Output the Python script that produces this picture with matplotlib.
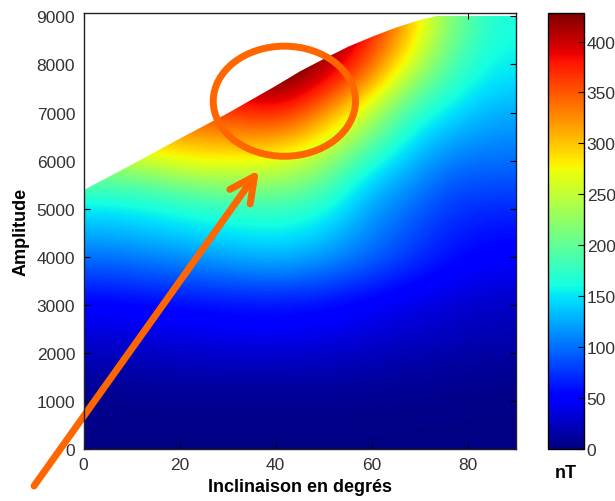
import numpy as np
import matplotlib
matplotlib.use("Agg")
import matplotlib.pyplot as plt
from matplotlib.patches import Ellipse

plt.rcParams['font.family'] = ['Liberation Sans', 'DejaVu Sans']

# inclination (deg) columns and amplitude rows of the field (nT)
inclinations = [0, 10, 20, 30, 40, 50, 60, 70, 80, 90]
amplitudes = [0, 500, 1000, 1500, 2000, 2500, 3000, 3500, 4000, 4500,
              5000, 5500, 6000, 6500, 7000, 7500, 8000, 8500, 9000]
field_nT = [
    [3, 3, 3, 3, 3, 3, 3, 3, 2, 2],
    [5, 5, 5, 5, 5, 5, 5, 4, 4, 3],
    [8, 9, 10, 10, 10, 10, 9, 8, 6, 5],
    [16, 18, 20, 21, 21, 20, 17, 14, 11, 9],
    [28, 30, 33, 35, 35, 33, 28, 23, 19, 16],
    [40, 43, 46, 49, 50, 47, 40, 33, 27, 22],
    [55, 58, 62, 65, 66, 62, 53, 43, 34, 28],
    [78, 84, 90, 96, 100, 92, 77, 60, 47, 40],
    [103, 110, 118, 126, 133, 120, 100, 78, 58, 50],
    [128, 135, 145, 152, 155, 145, 112, 88, 66, 58],
    [150, 158, 166, 174, 178, 165, 126, 100, 74, 70],
    [185, 190, 212, 218, 220, 195, 142, 115, 86, 84],
    [230, 250, 268, 268, 262, 230, 168, 132, 102, 98],
    [270, 300, 305, 315, 312, 275, 208, 150, 122, 110],
    [310, 340, 350, 352, 365, 318, 248, 172, 142, 123],
    [350, 380, 390, 390, 410, 365, 295, 207, 160, 137],
    [390, 410, 425, 425, 440, 405, 345, 247, 180, 149],
    [420, 430, 440, 440, 445, 430, 372, 282, 195, 157],
    [440, 445, 445, 445, 445, 440, 395, 302, 210, 162],
]

# upper limit of the valid domain (white above)
boundary_inc = [0, 10, 20, 30, 40, 45, 50, 55, 60, 65, 70, 75, 80, 90]
boundary_amp = [5400, 5930, 6470, 7000, 7570, 7870, 8130, 8380, 8590, 8780, 8940, 9050, 9120, 9200]

cbar_ticks = [0, 50, 100, 150, 200, 250, 300, 350, 400]

W, H = 615, 502
fig = plt.figure(figsize=(W / 100, H / 100), dpi=100)
ax = fig.add_axes([83.5 / W, 1 - 450 / H, 432.5 / W, 436 / H])
cax = fig.add_axes([548 / W, 1 - 450 / H, 36 / W, 436 / H])

Z = np.array(field_nT, dtype=float)
im = ax.imshow(Z, origin='lower', aspect='auto', cmap='jet', vmin=0, vmax=428,
               extent=[inclinations[0], inclinations[-1], amplitudes[0], amplitudes[-1]],
               interpolation='bicubic')
ymax = 9070
ax.fill_between(boundary_inc, boundary_amp, 10000, color='white', zorder=2, lw=0)
ax.set_xlim(0, 90)
ax.set_ylim(0, ymax)
ax.set_xticks([0, 20, 40, 60, 80])
ax.set_yticks(range(0, 9001, 1000))
ax.tick_params(direction='in', length=4, top=True, right=True, labelsize=12.5,
               labelcolor='#333333', pad=6)
for s in ax.spines.values():
    s.set_color('#222222')
    s.set_linewidth(1)
    s.set_zorder(3)
ax.set_xlabel('Inclinaison en degrés', fontsize=13, fontweight='bold', labelpad=4)
ax.set_ylabel('Amplitude', fontsize=13, fontweight='bold', labelpad=5)

cb = fig.colorbar(im, cax=cax, ticks=cbar_ticks)
cax.tick_params(direction='in', length=4, labelsize=12.5, labelcolor='#333333', pad=2)
cb.outline.set_linewidth(1)
fig.text(566 / W, 1 - 474 / H, 'nT', ha='center', va='center', fontsize=13, fontweight='bold')

orange = '#ff6600'
ell = Ellipse((41.8, 7235), width=29.6, height=2290, fill=False, edgecolor=orange,
              lw=5, zorder=5, clip_on=False)
ax.add_patch(ell)
ax.annotate('', xy=(259, H - 171), xytext=(34, H - 487), xycoords='figure pixels',
            textcoords='figure pixels',
            arrowprops=dict(arrowstyle='->,head_length=0.9,head_width=0.45',
                            color=orange, lw=5, capstyle='round', joinstyle='round',
                            shrinkA=0, shrinkB=0, mutation_scale=20))

fig.savefig('out.png', dpi=100)
